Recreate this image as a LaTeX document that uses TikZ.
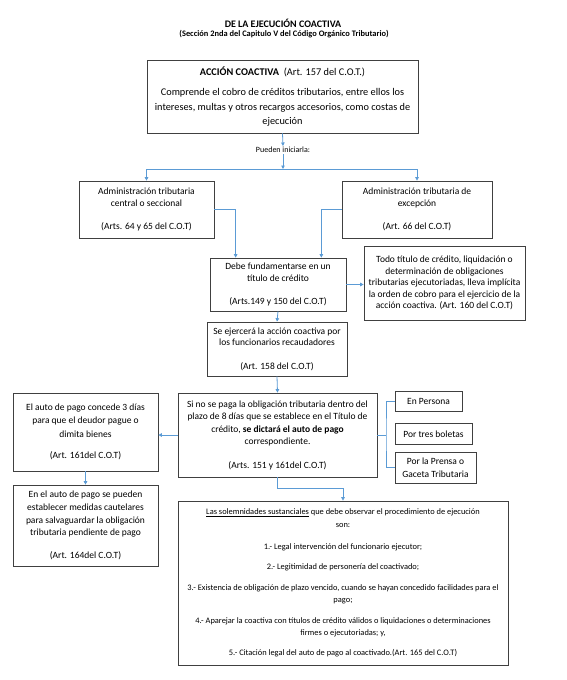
\documentclass[tikz,border=0pt]{standalone}
\usepackage{fontspec}
\setmainfont{Carlito}
\usetikzlibrary{arrows.meta,calc}
\definecolor{linkblue}{HTML}{5B9BD5}
\definecolor{boxgray}{HTML}{404040}
\tikzset{
  box/.style={draw=boxgray, line width=0.7pt, align=center, inner sep=0pt, fill=white,
    font=\fontsize{9.5}{11.5}\selectfont},
  conn/.style={draw=linkblue, line width=0.8pt},
  arr/.style={conn, -{Triangle[length=3.5pt,width=3.5pt]}},
}
\begin{document}
\begin{tikzpicture}[x=1pt,y=-1pt]
\path[use as bounding box, fill=white] (0,0) rectangle (567,680);

\node[font=\fontsize{10}{12}\selectfont\bfseries] (title) at (283,23) {DE LA EJECUCIÓN COACTIVA};
\node[font=\fontsize{8.4}{10}\selectfont\bfseries] (subtitle) at (284,34) {(Sección 2nda del Capitulo V del Código Orgánico Tributario)};

\node[box, minimum width=271, minimum height=73, font=\fontsize{10.3}{14.5}\selectfont] (accion) at (282.5,96.5)
  {{\bfseries ACCIÓN COACTIVA}\ \ (Art. 157 del C.O.T.)\\[6pt]
   Comprende el cobro de créditos tributarios, entre ellos los\\
   intereses, multas y otros recargos accesorios, como costas de\\
   ejecución};

\node[font=\fontsize{8}{9}\selectfont, inner sep=1pt] (pueden) at (283,150) {Pueden iniciarla:};
\coordinate (split) at (283,169);

\node[box, minimum width=135, minimum height=57] (central) at (146.5,209.5)
  {Administración tributaria\\ central o seccional\\[12pt] (Arts. 64 y 65 del C.O.T)};
\node[box, minimum width=150, minimum height=57] (excep) at (417,209.5)
  {Administración tributaria de\\ excepción\\[12pt] (Art. 66 del C.O.T)};

\node[box, minimum width=136, minimum height=53] (debe) at (278,284.5)
  {Debe fundamentarse en un\\ título de crédito\\[12pt] (Arts.149 y 150 del C.O.T)};
\node[box, minimum width=161, minimum height=74] (todo) at (444.5,283)
  {Todo título de crédito, liquidación o\\ determinación de obligaciones\\ tributarias ejecutoriadas, lleva implícita\\ la orden de cobro para el ejercicio de la\\ acción coactiva. (Art. 160 del C.O.T)};

\node[box, minimum width=140, minimum height=54] (ejerce) at (277,349)
  {Se ejercerá la acción coactiva por\\ los funcionarios recaudadores\\[12pt] (Art. 158 del C.O.T)};

\node[box, minimum width=199, minimum height=84, font=\fontsize{9.5}{12.5}\selectfont] (sino) at (277.5,435)
  {Si no se paga la obligación tributaria dentro del\\ plazo de 8 días que se establece en el Título de\\ crédito, \textbf{se dictará el auto de pago}\\ correspondiente.\\[11pt] (Arts. 151 y 161del C.O.T)};

\node[box, minimum width=145, minimum height=78, font=\fontsize{9.5}{13.5}\selectfont] (auto) at (85.5,432)
  {El auto de pago concede 3 días\\ para que el deudor pague o\\ dimita bienes\\[8pt] (Art. 161del C.O.T)};
\node[box, minimum width=145, minimum height=81, font=\fontsize{9.5}{12.7}\selectfont] (medidas) at (85.5,525.5)
  {En el auto de pago se pueden\\ establecer medidas cautelares\\ para salvaguardar la obligación\\ tributaria pendiente de pago\\[10pt] (Art. 164del C.O.T)};

\node[box, minimum width=67, minimum height=20] (persona) at (428.5,401) {En Persona};
\node[box, minimum width=77, minimum height=21] (boletas) at (433.5,434) {Por tres boletas};
\node[box, minimum width=81, minimum height=31, font=\fontsize{9.5}{12.5}\selectfont] (prensa) at (435.5,467.5) {Por la Prensa o\\ Gaceta Tributaria};

\node[box, minimum width=330, minimum height=164, font=\fontsize{8.4}{12.5}\selectfont] (las) at (343,583)
  {\underline{Las solemnidades sustanciales} que debe observar el procedimiento de ejecución\\ son:\\[10pt]
   1.- Legal intervención del funcionario ejecutor;\\[7.5pt]
   2.- Legitimidad de personería del coactivado;\\[8pt]
   3.- Existencia de obligación de plazo vencido, cuando se hayan concedido facilidades para el\\ pago;\\[8pt]
   4.- Aparejar la coactiva con títulos de crédito válidos o liquidaciones o determinaciones\\ firmes o ejecutoriadas; y,\\[7pt]
   5.- Citación legal del auto de pago al coactivado.(Art. 165 del C.O.T)};

% connectors
\draw[arr] (accion.south) -- (pueden.north);
\draw[arr] (pueden.south) -- (split);
\draw[arr] (split) -| (central.north);
\draw[arr] (split) -| (excep.north);
\draw[arr] (central.east) -| ([xshift=26pt]debe.north west);
\draw[arr] (excep.west) -| ([xshift=-25pt]debe.north east);
\draw[arr] (debe.east) -- (debe.east -| todo.west);
\draw[arr] (debe.south) -- (ejerce.north);
\draw[arr] (ejerce.south) -- (sino.north);
\draw[arr] (sino.west) -- (sino.west -| auto.east);
\draw[arr] (auto.south) -- (medidas.north);
\coordinate (brk) at (386,435);
\draw[conn] (sino.east) -- (brk);
\draw[conn] (persona.west) -| (brk) |- (prensa.west);
\draw[arr] (sino.south) -- ++(0,11) -| (las.north);
\end{tikzpicture}
\end{document}
